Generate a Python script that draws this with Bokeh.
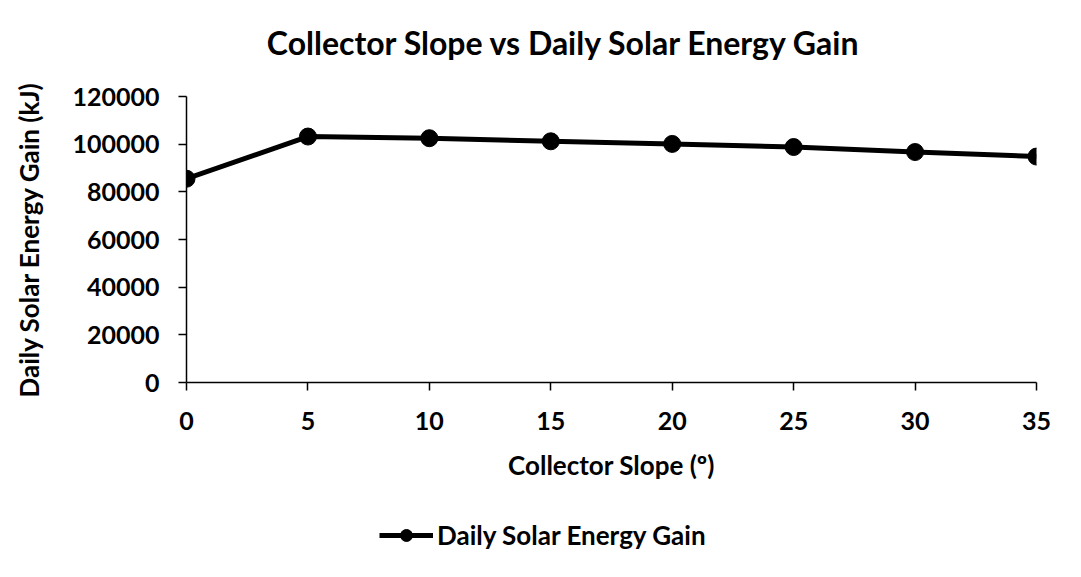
from bokeh.plotting import figure
from bokeh.layouts import column
from bokeh.models import Legend, LegendItem, FixedTicker, Range1d, NumeralTickFormatter, Label
from bokeh.embed import file_html
from bokeh.resources import INLINE

slopes = [0, 5, 10, 15, 20, 25, 30, 35]
gain = [85500, 103200, 102500, 101200, 100100, 98800, 96700, 94800]
x_ticks = [0, 5, 10, 15, 20, 25, 30, 35]
y_ticks = [0, 20000, 40000, 60000, 80000, 100000, 120000]
series_name = "Daily Solar Energy Gain"
title_text = "Collector Slope vs Daily Solar Energy Gain"

FONT = "Lato"

# title strip
p0 = figure(width=1065, height=70, output_backend="svg", toolbar_location=None,
            x_axis_location=None, y_axis_location=None,
            x_range=Range1d(0, 850), y_range=Range1d(0, 70),
            min_border_left=186, min_border_right=29, min_border_top=0, min_border_bottom=0)
p0.xgrid.visible = False
p0.ygrid.visible = False
p0.outline_line_color = None
p0.add_layout(Label(x=378, y=28, text=title_text, text_font=FONT, text_font_style="bold",
                    text_font_size="32px", text_color="black",
                    text_align="center", text_baseline="middle"))

p = figure(width=1065, height=420, output_backend="svg", toolbar_location=None,
           x_range=Range1d(0, 35), y_range=Range1d(0, 120000),
           min_border_left=186, min_border_right=29, min_border_top=26, min_border_bottom=108)
p.xgrid.visible = False
p.ygrid.visible = False
p.outline_line_color = None

for ax in (p.xaxis[0], p.yaxis[0]):
    ax.axis_line_color = "black"
    ax.axis_line_width = 1.5
    ax.major_tick_line_color = "black"
    ax.major_tick_line_width = 1.5
    ax.major_tick_out = 8
    ax.major_tick_in = 0
    ax.minor_tick_line_color = None
    ax.major_label_text_font = FONT
    ax.major_label_text_font_style = "bold"
    ax.major_label_text_font_size = "25px"
    ax.major_label_text_color = "black"
    ax.axis_label_text_font = FONT
    ax.axis_label_text_font_style = "bold"
    ax.axis_label_text_font_size = "26px"
    ax.axis_label_text_color = "black"

p.xaxis.ticker = FixedTicker(ticks=x_ticks)
p.yaxis.ticker = FixedTicker(ticks=y_ticks)
p.yaxis.formatter = NumeralTickFormatter(format="0")
p.xaxis.major_label_standoff = 21
p.yaxis.major_label_standoff = 19
p.xaxis.axis_label = "Collector Slope (º)"
p.yaxis.axis_label = "Daily Solar Energy Gain (kJ)"
p.xaxis.axis_label_standoff = 16
p.yaxis.axis_label_standoff = 24

p.line(slopes, gain, line_color="black", line_width=5)
p.scatter(slopes, gain, size=17, fill_color="black", line_color="black")

# legend strip below the chart (series drawn off-range so only the legend shows)
p2 = figure(width=1065, height=71, output_backend="svg", toolbar_location=None,
            x_axis_location=None, y_axis_location=None,
            x_range=Range1d(-100, -99), y_range=Range1d(-100, -99),
            min_border_left=186, min_border_right=29, min_border_top=0, min_border_bottom=0)
p2.xgrid.visible = False
p2.ygrid.visible = False
p2.outline_line_color = None
ln2 = p2.line(slopes, gain, line_color="black", line_width=5)
sc2 = p2.scatter(slopes, gain, size=17, fill_color="black", line_color="black")
legend = Legend(items=[LegendItem(label=series_name, renderers=[ln2, sc2])],
                location=(193, 10), orientation="horizontal",
                label_text_font=FONT, label_text_font_style="bold", label_text_font_size="26px",
                label_text_color="black",
                glyph_width=54, glyph_height=30, border_line_color=None, background_fill_alpha=0,
                label_standoff=4, padding=0, margin=0)
p2.add_layout(legend, "center")

open("out.html", "w").write(file_html(column(p0, p, p2, spacing=0), INLINE))
